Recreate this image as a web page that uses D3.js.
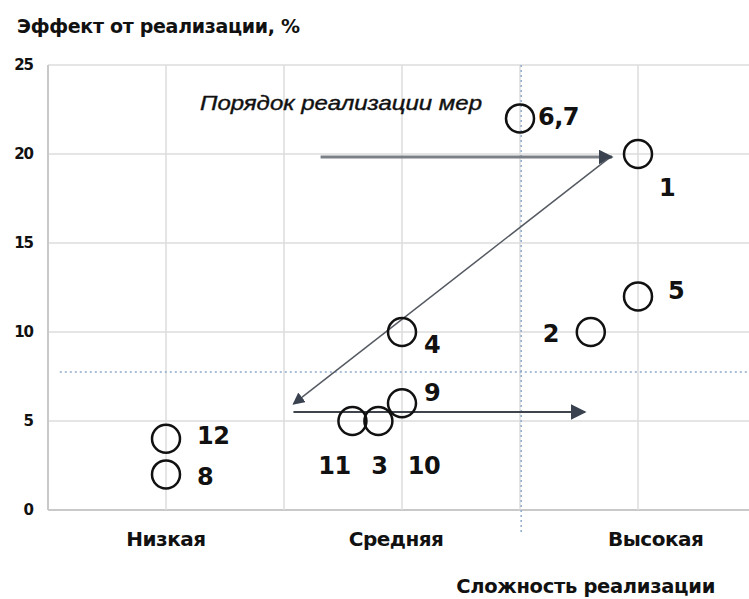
<!DOCTYPE html>
<html>
<head>
<meta charset="utf-8">
<script src="https://cdn.jsdelivr.net/npm/d3@7"></script>
<style>
  body { margin: 0; background: #fff; }
  text { font-family: "DejaVu Sans", sans-serif; font-weight: bold; fill: #111; }
</style>
</head>
<body>
<svg id="chart" width="749" height="599"></svg>
<script>
// measures (x in grid units, y = effect %)
var labels = ["1", "2", "3", "4", "5", "6,7", "8", "9", "10", "11", "12"];
var xs = [5, 4.6, 2.8, 3, 5, 4, 1, 3, 3, 2.58, 1];
var ys = [20, 10, 5, 10, 12, 22, 2, 6, 6, 5, 4];
var drawCircle = [true, true, true, true, true, true, true, true, false, true, true];

var yTicks = [0, 5, 10, 15, 20, 25];
var xGrid = [0, 1, 2, 3, 4, 5, 6];
var categories = ["Низкая", "Средняя", "Высокая"];
var categoryPos = [1, 2.95, 5.15];

// order of implementation arrows [x1, y1, x2, y2]
var arrows = [
  [2.31, 19.83, 4.78, 19.83],
  [4.74, 19.7, 2.08, 5.96],
  [2.08, 5.51, 4.55, 5.51]
];
var threshX = 4.01, threshY = 7.75;

var svg = d3.select("#chart");
var x = d3.scaleLinear().domain([0, 6]).range([48, 756]);
var y = d3.scaleLinear().domain([0, 25]).range([510, 65]);

// grid
svg.selectAll(".hgrid").data(yTicks).enter().append("line")
  .attr("x1", x(0)).attr("x2", 749)
  .attr("y1", d => y(d)).attr("y2", d => y(d))
  .attr("stroke", d => d == 0 ? "#c9c9c9" : "#dcdcdc")
  .attr("stroke-width", d => d == 0 ? 2 : 1.5);
svg.selectAll(".vgrid").data(xGrid).enter().append("line")
  .attr("x1", d => x(d)).attr("x2", d => x(d))
  .attr("y1", y(0)).attr("y2", y(25))
  .attr("stroke", d => d == 0 ? "#c9c9c9" : "#dcdcdc")
  .attr("stroke-width", d => d == 0 ? 2 : 1.5);

// threshold dotted lines
svg.append("line")
  .attr("x1", x(0.1)).attr("x2", 749)
  .attr("y1", y(threshY)).attr("y2", y(threshY))
  .attr("stroke", "#8eaacb").attr("stroke-width", 1.5)
  .attr("stroke-dasharray", "2,3");
svg.append("line")
  .attr("x1", x(threshX)).attr("x2", x(threshX))
  .attr("y1", y(25)).attr("y2", y(-1.4))
  .attr("stroke", "#8eaacb").attr("stroke-width", 1.5)
  .attr("stroke-dasharray", "2,3");

// y tick labels
svg.selectAll(".ytick").data(yTicks).enter().append("text")
  .attr("x", 33).attr("y", d => y(d) + 5)
  .attr("text-anchor", "end")
  .attr("font-size", 15).attr("letter-spacing", -1)
  .text(d => d);

// category labels
svg.selectAll(".cat").data(categories).enter().append("text")
  .attr("x", (d, i) => x(categoryPos[i]))
  .attr("y", 546)
  .attr("text-anchor", "middle")
  .attr("font-size", 20).attr("letter-spacing", -0.5)
  .text(d => d);

// titles
svg.append("text").attr("x", 17).attr("y", 33)
  .attr("font-size", 19).attr("letter-spacing", -0.3)
  .text("Эффект от реализации, %");
svg.append("text").attr("x", 715).attr("y", 593)
  .attr("text-anchor", "end")
  .attr("font-size", 19.5).attr("letter-spacing", -0.3)
  .text("Сложность реализации");
svg.append("text").attr("x", 200).attr("y", 110)
  .style("font-family", "'Liberation Sans', Arial, sans-serif")
  .style("font-style", "italic").style("font-weight", "normal")
  .attr("font-size", 21)
  .attr("textLength", 282).attr("lengthAdjust", "spacingAndGlyphs")
  .attr("stroke", "#111").attr("stroke-width", 0.4)
  .text("Порядок реализации мер");

// arrowheads
var defs = svg.append("defs");
defs.append("marker").attr("id", "head")
  .attr("viewBox", "0 0 10 10").attr("refX", 9).attr("refY", 5)
  .attr("markerWidth", 5).attr("markerHeight", 5)
  .attr("markerUnits", "strokeWidth")
  .attr("orient", "auto")
  .append("path").attr("d", "M0,0 L10,5 L0,10 Z").attr("fill", "#3a4250");
defs.append("marker").attr("id", "headThin")
  .attr("viewBox", "0 0 10 10").attr("refX", 9).attr("refY", 5)
  .attr("markerWidth", 8).attr("markerHeight", 8)
  .attr("markerUnits", "strokeWidth")
  .attr("orient", "auto")
  .append("path").attr("d", "M0,0 L10,5 L0,10 Z").attr("fill", "#3a4250");

var arrowWidth = [3, 1.5, 2];
var arrowColor = ["#7b7f86", "#555a62", "#3f444c"];
svg.selectAll(".arrow").data(arrows).enter().append("line")
  .attr("x1", d => x(d[0])).attr("y1", d => y(d[1]))
  .attr("x2", d => x(d[2])).attr("y2", d => y(d[3]))
  .attr("stroke", (d, i) => arrowColor[i])
  .attr("stroke-width", (d, i) => arrowWidth[i])
  .attr("marker-end", (d, i) => i == 0 ? "url(#head)" : "url(#headThin)");

// points
var pts = labels.map((l, i) => ({ label: l, x: xs[i], y: ys[i], circle: drawCircle[i] }));
svg.selectAll(".pt").data(pts.filter(d => d.circle)).enter().append("circle")
  .attr("cx", d => x(d.x)).attr("cy", d => y(d.y))
  .attr("r", 14)
  .attr("fill", "none").attr("stroke", "#111").attr("stroke-width", 2.5);

// label offsets from point centre [dx, dy, anchor]
var offsets = {
  "1": [29, 42, "middle"], "2": [-40, 10, "middle"], "3": [1, 53, "middle"],
  "4": [30, 21, "middle"], "5": [38, 3, "middle"], "6,7": [18, 7, "start"],
  "8": [31, 11, "start"], "9": [22, -2, "start"], "10": [22, 71, "middle"],
  "11": [-18, 53, "middle"], "12": [31, 5, "start"]
};
svg.selectAll(".lbl").data(pts).enter().append("text")
  .attr("x", d => x(d.x) + offsets[d.label][0])
  .attr("y", d => y(d.y) + offsets[d.label][1])
  .attr("text-anchor", d => offsets[d.label][2])
  .attr("font-size", 24).attr("letter-spacing", -0.5)
  .text(d => d.label);
</script>
</body>
</html>
